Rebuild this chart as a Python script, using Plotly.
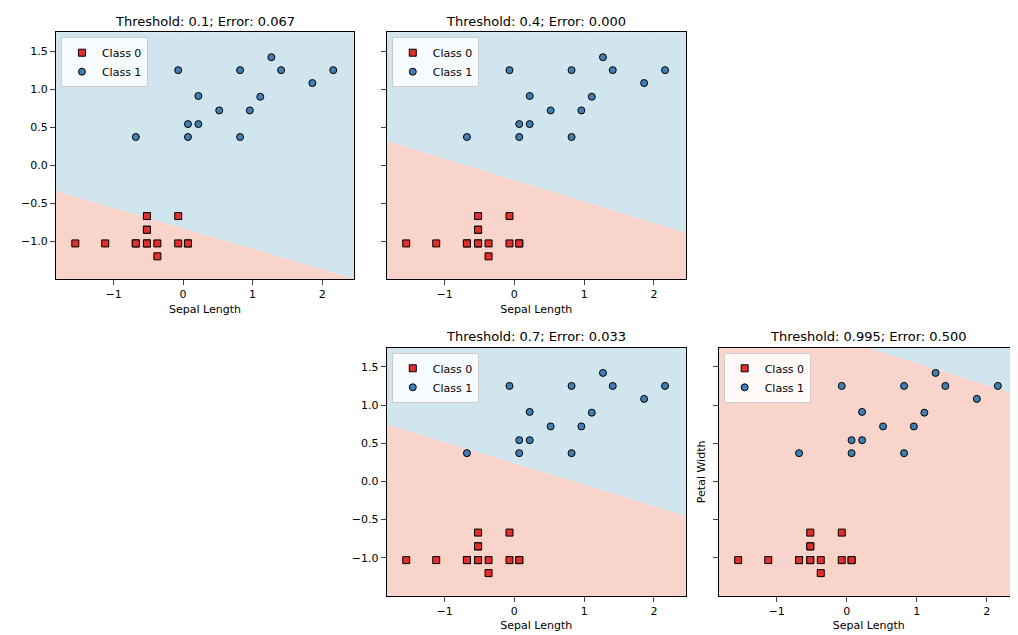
import plotly.graph_objects as go

class0_x = [-1.55, -1.12, -0.68, -0.52, -0.52, -0.52, -0.52, -0.37, -0.37, -0.07, -0.07, 0.07, 0.07, -0.52, -0.68]
class0_y = [-1.03, -1.03, -1.03, -1.03, -0.85, -0.67, -1.03, -1.03, -1.2, -1.03, -0.67, -1.03, -1.03, -0.85, -1.03]
class1_x = [-0.68, -0.07, 0.07, 0.07, 0.22, 0.22, 0.52, 0.82, 0.82, 0.96, 1.11, 1.27, 1.41, 1.86, 2.16]
class1_y = [0.37, 1.25, 0.54, 0.37, 0.91, 0.54, 0.72, 1.25, 0.37, 0.72, 0.9, 1.42, 1.25, 1.08, 1.25]

thresholds = ["0.1", "0.4", "0.7", "0.995"]
errors = ["0.067", "0.000", "0.033", "0.500"]
# boundary y at x=-1.83 and x=2.46
bound_left = [-0.34, 0.32, 0.75, 2.36]
bound_right = [-1.49, -0.89, -0.45, 1.13]

XR = [-1.83, 2.46]
YR = [-1.5, 1.75]
dom_x = [[0.047, 0.340], [0.372, 0.666], [0.372, 0.666], [0.698, 0.993]]
dom_y = [[0.573, 0.962], [0.573, 0.962], [0.074, 0.465], [0.074, 0.465]]

fig = go.Figure()
layout = {}
for i in range(4):
    n = "" if i == 0 else str(i + 1)
    xa, ya = "x" + n, "y" + n
    bl, br = bound_left[i], bound_right[i]
    fig.add_trace(go.Scatter(x=[XR[0], XR[1], XR[1], XR[0]], y=[bl, br, -5, -5], fill="toself",
                             fillcolor="#f8d4cb", line=dict(width=0), mode="lines", hoverinfo="skip",
                             showlegend=False, xaxis=xa, yaxis=ya))
    fig.add_trace(go.Scatter(x=[XR[0], XR[1], XR[1], XR[0]], y=[bl, br, 5, 5], fill="toself",
                             fillcolor="#d1e5ef", line=dict(width=0), mode="lines", hoverinfo="skip",
                             showlegend=False, xaxis=xa, yaxis=ya))
    lg = "legend" + n
    fig.add_trace(go.Scatter(x=class0_x, y=class0_y, mode="markers", name="Class 0",
                             marker=dict(symbol="square", size=7, color="#e0302e", line=dict(color="black", width=1)),
                             xaxis=xa, yaxis=ya, legend=lg))
    fig.add_trace(go.Scatter(x=class1_x, y=class1_y, mode="markers", name="Class 1",
                             marker=dict(symbol="circle", size=7, color="#3f7fb3", line=dict(color="black", width=1)),
                             xaxis=xa, yaxis=ya, legend=lg))
    layout["xaxis" + n] = dict(domain=dom_x[i], range=XR, anchor=ya, tickvals=[-1, 0, 1, 2],
                               ticktext=["−1", "0", "1", "2"], automargin=False, layer="above traces",
                               title=dict(text="Sepal Length", font=dict(size=11), standoff=4),
                               showgrid=True, gridcolor="rgba(150,150,150,0.35)", griddash="dash",
                               showline=True, linecolor="black", mirror=True, ticks="outside",
                               zeroline=False, tickfont=dict(size=11))
    layout["yaxis" + n] = dict(domain=dom_y[i], range=YR, anchor=xa, automargin=False, layer="above traces",
                               tickvals=[-1.0, -0.5, 0.0, 0.5, 1.0, 1.5],
                               ticktext=["−1.0", "−0.5", "0.0", "0.5", "1.0", "1.5"],
                               showticklabels=(i in (0, 2)),
                               showgrid=True, gridcolor="rgba(150,150,150,0.35)", griddash="dash",
                               showline=True, linecolor="black", mirror=True, ticks="outside",
                               zeroline=False, tickfont=dict(size=11))
    layout[lg] = dict(x=dom_x[i][0] + 0.005, y=dom_y[i][1] - 0.008, xanchor="left", yanchor="top",
                      bgcolor="rgba(255,255,255,0.85)", bordercolor="#cccccc", borderwidth=1,
                      font=dict(size=11))
layout["yaxis4"]["title"] = dict(text="Petal Width", font=dict(size=11), standoff=4)

anns = []
for i in range(4):
    anns.append(dict(text=f"Threshold: {thresholds[i]}; Error: {errors[i]}", xref="paper", yref="paper",
                     x=(dom_x[i][0] + dom_x[i][1]) / 2, y=dom_y[i][1] + 0.002, xanchor="center",
                     yanchor="bottom", showarrow=False, font=dict(size=13, color="black")))

fig.update_layout(width=1018, height=635, margin=dict(l=0, r=0, t=0, b=0),
                  plot_bgcolor="white", paper_bgcolor="white",
                  font=dict(family="DejaVu Sans", color="black"), annotations=anns, **layout)
fig.write_html("out.html")
